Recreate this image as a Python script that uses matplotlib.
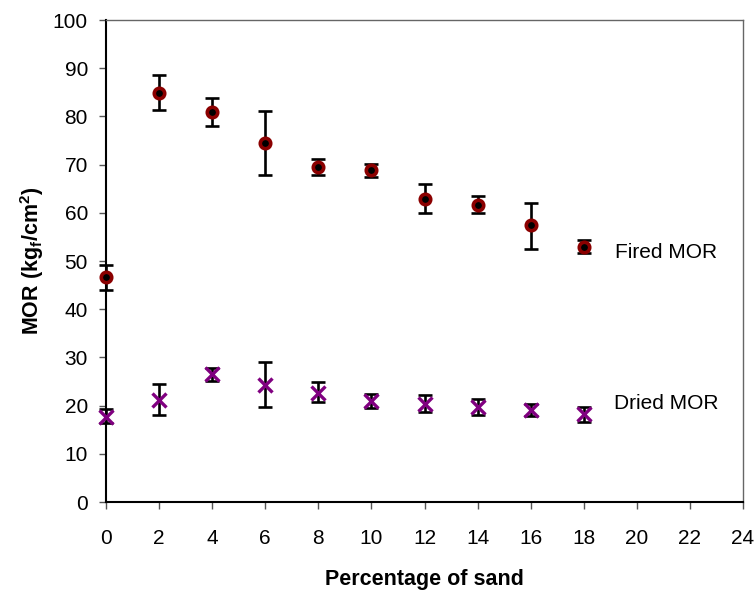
import matplotlib
matplotlib.use("Agg")
import matplotlib.pyplot as plt

plt.rcParams['font.family'] = ['Liberation Sans', 'DejaVu Sans']
plt.rcParams['mathtext.fontset'] = 'custom'
plt.rcParams['mathtext.rm'] = 'Liberation Sans'
plt.rcParams['mathtext.bf'] = 'Liberation Sans:bold'

sand = [0, 2, 4, 6, 8, 10, 12, 14, 16, 18]
fired = [46.7, 84.9, 80.9, 74.5, 69.6, 68.8, 62.9, 61.7, 57.4, 53.0]
fired_hi = [49.1, 88.5, 83.8, 81.1, 71.2, 70.1, 66.0, 63.4, 62.0, 54.4]
fired_lo = [44.0, 81.3, 78.0, 67.9, 67.9, 67.4, 59.9, 59.9, 52.5, 51.7]
dried = [17.7, 21.2, 26.6, 24.3, 22.7, 21.0, 20.3, 19.8, 19.1, 18.2]
dried_hi = [19.2, 24.4, 27.7, 29.0, 24.8, 22.4, 22.3, 21.4, 20.3, 19.8]
dried_lo = [16.4, 18.0, 25.2, 19.8, 20.8, 19.6, 18.6, 18.1, 17.9, 16.7]
xticks = list(range(0, 25, 2))
yticks = list(range(0, 101, 10))

fig = plt.figure(figsize=(7.56, 5.92), dpi=100)
ax = fig.add_axes([106/756, 1-502/592, (743-106)/756, (502-20)/592])

ferr = [[f - l for f, l in zip(fired, fired_lo)], [h - f for f, h in zip(fired, fired_hi)]]
derr = [[d - l for d, l in zip(dried, dried_lo)], [h - d for d, h in zip(dried, dried_hi)]]

for y, e in [(fired, ferr), (dried, derr)]:
    _, caps, bars = ax.errorbar(sand, y, yerr=e, fmt='none', ecolor='black', elinewidth=1.9,
                                capsize=5, capthick=1.9, zorder=2)
    for c in caps:
        c.set_clip_on(False)
    for b in bars:
        b.set_clip_on(False)
ax.plot(sand, fired, 'o', markersize=7.5, markerfacecolor='black',
        markeredgecolor='#8B0000', markeredgewidth=2.6, linestyle='none', zorder=3,
        clip_on=False)
ax.plot(sand, dried, 'x', markersize=10, color='#800080', markeredgewidth=2.4,
        linestyle='none', zorder=3, clip_on=False)

ax.text(21.1, 51.8, 'Fired MOR', fontsize=15, ha='center', va='center')
ax.text(21.1, 20.4, 'Dried MOR', fontsize=15, ha='center', va='center')

ax.set_xlim(0, 24)
ax.set_ylim(0, 100)
ax.set_xticks(xticks)
ax.set_yticks(yticks)
ax.tick_params(axis='both', labelsize=15, direction='out', length=5, width=1, color='#555555')
ax.tick_params(axis='x', pad=14.5)
ax.tick_params(axis='y', pad=8)
ax.set_xlabel('Percentage of sand', fontsize=15.5, fontweight='bold', labelpad=15)
ax.set_ylabel(r'MOR (kg$_\mathbf{f}$/cm$^\mathbf{2}$)', fontsize=15.5, fontweight='bold', labelpad=5)

for s in ['left', 'bottom']:
    ax.spines[s].set_linewidth(1.5)
    ax.spines[s].set_color('black')
for s in ['top', 'right']:
    ax.spines[s].set_linewidth(1.0)
    ax.spines[s].set_color('#666666')

fig.savefig('out.png', dpi=100)
